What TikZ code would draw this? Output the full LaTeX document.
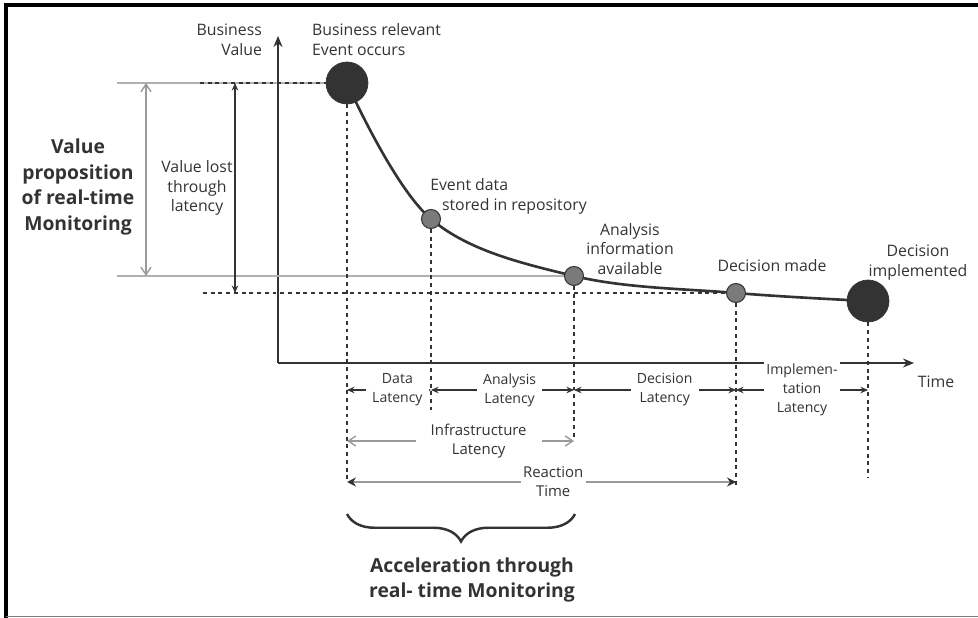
\documentclass[tikz,border=0pt]{standalone}
\usepackage{fontspec}
\setmainfont{Open Sans}
\usetikzlibrary{arrows.meta,decorations.pathreplacing,backgrounds}

\definecolor{ink}{HTML}{333333}
\definecolor{dotgray}{HTML}{7A7A7A}
\definecolor{guidegray}{HTML}{B0B0B0}
\definecolor{reactgray}{HTML}{9A9A9A}

\tikzset{
    bigdot/.style={circle, fill=ink, draw=ink, minimum size=0.84cm, inner sep=0pt},
    smalldot/.style={circle, fill=dotgray, draw=ink, line width=0.6pt, minimum size=0.38cm, inner sep=0pt},
    lbl/.style={text=ink, font=\fontsize{9}{11.3}\selectfont, align=center, inner sep=1pt},
    latlbl/.style={text=ink, font=\fontsize{8}{10.8}\selectfont, align=center, fill=white, inner xsep=0.12cm, inner ysep=1pt},
    boldlbl/.style={text=ink, font=\bfseries\fontsize{11}{14.5}\selectfont, align=center, inner sep=1pt},
    vdash/.style={ink, line width=0.7pt, dash pattern=on 2.2pt off 2.2pt},
    guide/.style={guidegray, line width=1.2pt},
    latarr/.style={ink, line width=0.6pt, {Stealth[length=1.5mm,width=1.3mm]}-{Stealth[length=1.5mm,width=1.3mm]}},
    infarr/.style={reactgray, line width=0.8pt, {Straight Barb[length=1.5mm,width=2mm]}-{Straight Barb[length=1.5mm,width=2mm]}},
    reactarr/.style={reactgray, line width=1.6pt, {Stealth[ink,length=1.8mm,width=1.8mm]}-{Stealth[ink,length=1.8mm,width=1.8mm]}},
    axis/.style={ink, line width=1.1pt, -{Stealth[length=2.2mm,width=1.8mm]}}
}

\begin{document}
\begin{tikzpicture}[x=0.02cm, y=-0.02cm]
    \useasboundingbox (0,0) rectangle (978,618);

    % frame
    \draw[black, line width=1.8pt] (6,618) -- (6,5) -- (978,5);
    \draw[gray, line width=0.8pt] (6,616.5) -- (978,616.5);

    % event points
    \coordinate (pev) at (347,83);
    \coordinate (pst) at (431,219);
    \coordinate (pan) at (574,276);
    \coordinate (pdm) at (736,293);
    \coordinate (pim) at (868,301);

    % axes
    \coordinate (org) at (278,363);
    \coordinate (ytip) at (278,36);
    \coordinate (xtip) at (914,363);
    \draw[axis] (org) -- (ytip);
    \draw[axis] (org) -- (xtip);
    \node[lbl, anchor=east, align=right] (bv) at (264,40) {Business\\Value};
    \node[lbl] (tm) at (936,382) {Time};

    % guide lines
    \coordinate (gtop) at (117,83);
    \coordinate (gbot) at (117,276);
    \coordinate (dtop) at (200,83);
    \coordinate (dbot) at (203,293);
    \draw[guide] (gtop) -- (pev);
    \draw[guide] (gbot) -- (pan);
    \draw[vdash] (dtop) -- (pev);
    \draw[vdash] (dbot) -- (pdm);

    % value curve
    \draw[ink, line width=1.5pt] plot[smooth, tension=0.6] coordinates {(pev) (pst) (pan) (pdm) (pim)};

    \node[bigdot] (ev) at (pev) {};
    \node[smalldot] (st) at (pst) {};
    \node[smalldot] (an) at (pan) {};
    \node[smalldot] (dm) at (pdm) {};
    \node[bigdot] (im) at (pim) {};

    \node[lbl, anchor=west, align=left] (evl) at (310,40) {Business relevant\\Event occurs};
    \node[lbl, anchor=west, align=left] (stl) at (440,196) {\hspace*{-0.75em}Event data\\stored in repository};
    \node[lbl] (anl) at (630,249) {Analysis\\information\\available};
    \node[lbl] (dml) at (772,266) {Decision made};
    \node[lbl] (iml) at (918,263) {Decision\\implemented};

    % value lost
    \coordinate (vpx) at (146,0);
    \coordinate (vlx) at (235,0);
    \draw[infarr] (vpx |- gtop) -- (vpx |- gbot);
    \draw[latarr] (vlx |- dtop) -- (vlx |- dbot);
    \node[lbl] (vll) at (197,188) {Value lost\\through\\latency};
    \node[boldlbl] (vpl) at (78,187) {Value\\proposition\\of real-time\\Monitoring};

    % latency rows
    \coordinate (row1) at (0,390);
    \coordinate (row2) at (0,441);
    \coordinate (row3) at (0,482);
    \draw[vdash] (ev) -- (ev |- row3);
    \draw[vdash] (st) -- (st |- 0,410);
    \draw[vdash] (an) -- (an |- 0,440);
    \draw[vdash] (dm) -- (dm |- 0,486);
    \draw[vdash] (im) -- (im |- 0,478);

    \draw[latarr] (ev |- row1) -- node[latlbl, pos=0.6] {Data\\Latency} (st |- row1);
    \draw[latarr] (st |- row1) -- node[latlbl, pos=0.55] {Analysis\\Latency} (an |- row1);
    \draw[latarr] (an |- row1) -- node[latlbl, pos=0.56] {Decision\\Latency} (dm |- row1);
    \draw[latarr] (dm |- row1) -- node[latlbl, pos=0.5, inner xsep=0.05cm] {Implemen-\\tation\\Latency} (im |- row1);

    \draw[infarr] (ev |- row2) -- node[latlbl, pos=0.58, inner xsep=0.3cm, font=\fontsize{8.5}{10.8}\selectfont] {Infrastructure\\Latency} (an |- row2);
    \draw[reactarr] (ev |- row3) -- node[latlbl, pos=0.53, inner xsep=0.05cm, font=\fontsize{8.5}{10.8}\selectfont] {Reaction\\Time} (dm |- row3);

    % acceleration
    \coordinate (brl) at (347,514);
    \coordinate (brr) at (575,514);
    \draw[ink, line width=1.4pt, decorate, decoration={brace, mirror, amplitude=0.55cm}] (brl) -- (brr);
    \node[boldlbl] (acc) at (472,580) {Acceleration through\\real- time Monitoring};
\end{tikzpicture}
\end{document}
